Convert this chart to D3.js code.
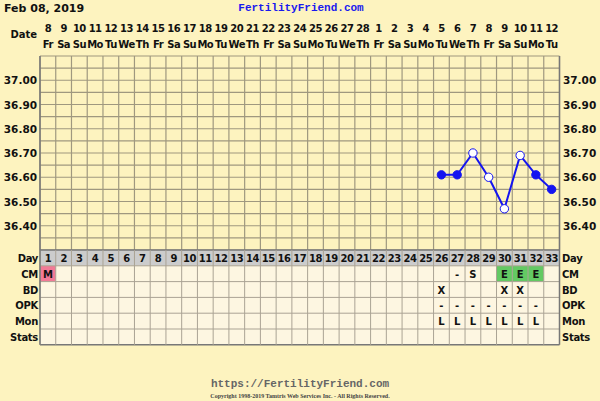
<!DOCTYPE html>
<html>
<head>
<meta charset="utf-8">
<script src="https://cdn.jsdelivr.net/npm/d3@7"></script>
<style>
  body { margin: 0; background: #fdf3bf; }
  svg { display: block; }
  text { font-family: "DejaVu Sans", Verdana, sans-serif; font-weight: bold; fill: #111; }
</style>
</head>
<body>
<svg id="chart" width="600" height="401"></svg>
<script>
// chart data
const days = d3.range(1, 34)
const dates = ['8', '9', '10', '11', '12', '13', '14', '15', '16', '17', '18', '19', '20', '21', '22', '23', '24', '25', '26', '27', '28',
  '1', '2', '3', '4', '5', '6', '7', '8', '9', '10', '11', '12']
const weekdays = ['Fr', 'Sa', 'Su', 'Mo', 'Tu', 'We', 'Th']
const tempTicks = [36.4, 36.5, 36.6, 36.7, 36.8, 36.9, 37.0]
// temperatures recorded (day -> value, open = not a regular reading)
const tempDays = [26, 27, 28, 29, 30, 31, 32, 33]
const tempValues = [36.61, 36.61, 36.70, 36.60, 36.47, 36.69, 36.61, 36.55]
const tempOpen = [false, false, true, true, true, true, false, false]
const cmRow = { 1: 'M', 27: '-', 28: 'S', 30: 'E', 31: 'E', 32: 'E' }
const bdRow = { 26: 'X', 30: 'X', 31: 'X' }
const opkRow = { 26: '-', 27: '-', 28: '-', 29: '-', 30: '-', 31: '-', 32: '-' }
const monRow = { 26: 'L', 27: 'L', 28: 'L', 29: 'L', 30: 'L', 31: 'L', 32: 'L' }
const rowNames = ['CM', 'BD', 'OPK', 'Mon', 'Stats']
const rowData = [cmRow, bdRow, opkRow, monRow, {}]

const svg = d3.select('#chart')
const gLeft = 40
const gRight = 559.5
const gTop = 56
const tempBottom = 250
const rowH = 15.8

const x = d3.scaleBand().domain(days).range([gLeft, gRight])
const y = d3.scaleLinear().domain([36.3, 37.1]).range([tempBottom, gTop])
const cw = x.bandwidth()
const colX = (d) => d > 33 ? gRight : x(d)

// header
svg.append('text').attr('x', 4).attr('y', 12).style('font-size', '11px')
  .style('font-family', 'Verdana, "DejaVu Sans", sans-serif').text('Feb 08, 2019')
svg.append('text').attr('x', 301).attr('y', 11).attr('text-anchor', 'middle')
  .style('font-family', '"Liberation Mono", "DejaVu Sans Mono", monospace').style('font-size', '11px')
  .style('fill', '#1a1aee').text('FertilityFriend.com')

svg.append('text').attr('x', 37).attr('y', 38).attr('text-anchor', 'end').style('font-size', '10px').text('Date')
svg.selectAll('.dnum').data(days).join('text')
  .attr('class', 'dnum')
  .attr('x', (d) => x(d) + cw / 2)
  .attr('y', 32)
  .attr('text-anchor', 'middle')
  .style('font-size', '10px')
  .style('letter-spacing', '-0.5px')
  .text((d) => dates[d - 1])
svg.selectAll('.dow').data(days).join('text')
  .attr('class', 'dow')
  .attr('x', (d) => x(d) + cw / 2)
  .attr('y', 48)
  .attr('text-anchor', 'middle')
  .style('font-size', '10px')
  .style('letter-spacing', '-0.5px')
  .text((d) => weekdays[(d - 1) % 7])

// temperature grid
const hLines = d3.range(36.3, 37.1001, 0.05)
svg.selectAll('.hl').data(hLines).join('line')
  .attr('class', 'hl')
  .attr('x1', gLeft).attr('x2', gRight)
  .attr('y1', (d) => y(d)).attr('y2', (d) => y(d))
  .attr('stroke', '#9f987f').attr('stroke-width', 1.2)
svg.selectAll('.vl').data(days.concat([34])).join('line')
  .attr('class', 'vl')
  .attr('x1', colX).attr('x2', colX)
  .attr('y1', gTop).attr('y2', tempBottom)
  .attr('stroke', '#9f987f').attr('stroke-width', 1.2)

svg.selectAll('.tl').data(tempTicks).join('text')
  .attr('class', 'tl')
  .attr('x', 37).attr('y', (d) => y(d) + 4)
  .attr('text-anchor', 'end').style('font-size', '10.5px')
  .text((d) => d.toFixed(2))
svg.selectAll('.tr').data(tempTicks).join('text')
  .attr('class', 'tr')
  .attr('x', 563).attr('y', (d) => y(d) + 4)
  .style('font-size', '10.5px')
  .text((d) => d.toFixed(2))

// lower rows
const dayTop = tempBottom
svg.append('rect').attr('x', gLeft).attr('y', dayTop).attr('width', gRight - gLeft).attr('height', rowH)
  .attr('fill', '#cccccc')
svg.append('rect').attr('x', gLeft).attr('y', dayTop + rowH).attr('width', gRight - gLeft).attr('height', rowH * 5)
  .attr('fill', '#fdf6e1')

const cellFill = { M: '#f27a96', E: '#63c963' }
days.forEach((d) => {
  const v = cmRow[d]
  if (cellFill[v]) {
    svg.append('rect').attr('x', x(d)).attr('y', dayTop + rowH).attr('width', cw).attr('height', rowH)
      .attr('fill', cellFill[v])
  }
})

const rowLines = d3.range(0, 7)
svg.selectAll('.rl').data(rowLines).join('line')
  .attr('class', 'rl')
  .attr('x1', gLeft).attr('x2', gRight)
  .attr('y1', (i) => dayTop + i * rowH).attr('y2', (i) => dayTop + i * rowH)
  .attr('stroke', (i) => i === 0 || i === 6 ? '#777' : '#aaa394').attr('stroke-width', (i) => i === 0 || i === 6 ? 1.5 : 1)
svg.selectAll('.rv').data(days.concat([34])).join('line')
  .attr('class', 'rv')
  .attr('x1', colX).attr('x2', colX)
  .attr('y1', dayTop).attr('y2', dayTop + rowH * 6)
  .attr('stroke', '#aaa394').attr('stroke-width', 1)
// outer borders
svg.append('line').attr('x1', gLeft).attr('x2', gLeft).attr('y1', gTop).attr('y2', dayTop + rowH * 6)
  .attr('stroke', '#777').attr('stroke-width', 1.5)
svg.append('line').attr('x1', gRight).attr('x2', gRight).attr('y1', gTop).attr('y2', dayTop + rowH * 6)
  .attr('stroke', '#777').attr('stroke-width', 1.5)

svg.selectAll('.dayn').data(days).join('text')
  .attr('class', 'dayn')
  .attr('x', (d) => x(d) + cw / 2).attr('y', dayTop + 12)
  .attr('text-anchor', 'middle').style('font-size', '10px').style('letter-spacing', '-0.5px')
  .text((d) => d)

const rowLabels = ['Day'].concat(rowNames)
svg.selectAll('.rlab').data(rowLabels).join('text')
  .attr('class', 'rlab')
  .attr('x', 38).attr('y', (d, i) => dayTop + i * rowH + 12)
  .attr('text-anchor', 'end').style('font-size', '10px').style('letter-spacing', '-0.3px')
  .text((d) => d)
svg.selectAll('.rlabr').data(rowLabels).join('text')
  .attr('class', 'rlabr')
  .attr('x', 562).attr('y', (d, i) => dayTop + i * rowH + 12)
  .style('font-size', '10px').style('letter-spacing', '-0.3px')
  .text((d) => d)

rowData.forEach((row, i) => {
  Object.keys(row).forEach((k) => {
    const d = +k
    svg.append('text')
      .attr('x', x(d) + cw / 2).attr('y', dayTop + (i + 1) * rowH + 12)
      .attr('text-anchor', 'middle').style('font-size', '10px')
      .text(row[k])
  })
})

// temperature line
const pts = tempDays.map((d, i) => ({ day: d, t: tempValues[i], open: tempOpen[i] }))
svg.append('path').datum(pts)
  .attr('d', d3.line().x((p) => x(p.day) + cw / 2).y((p) => y(p.t)))
  .attr('fill', 'none').attr('stroke', '#1414f0').attr('stroke-width', 2)
svg.selectAll('.pt').data(pts).join('circle')
  .attr('class', 'pt')
  .attr('cx', (p) => x(p.day) + cw / 2).attr('cy', (p) => y(p.t))
  .attr('r', 4.2)
  .attr('fill', (p) => p.open ? '#fff' : '#1414f0')
  .attr('stroke', '#1414f0').attr('stroke-width', 1)

// footer
svg.append('text').attr('x', 300).attr('y', 387).attr('text-anchor', 'middle')
  .style('font-family', '"Liberation Mono", "DejaVu Sans Mono", monospace').style('font-size', '11px')
  .style('fill', '#666').text('https://FertilityFriend.com')
svg.append('text').attr('x', 300).attr('y', 398).attr('text-anchor', 'middle')
  .style('font-family', '"Liberation Serif", serif').style('font-size', '6px')
  .style('fill', '#444').text('Copyright 1998-2019 Tamtris Web Services Inc. - All Rights Reserved.')
</script>
</body>
</html>
